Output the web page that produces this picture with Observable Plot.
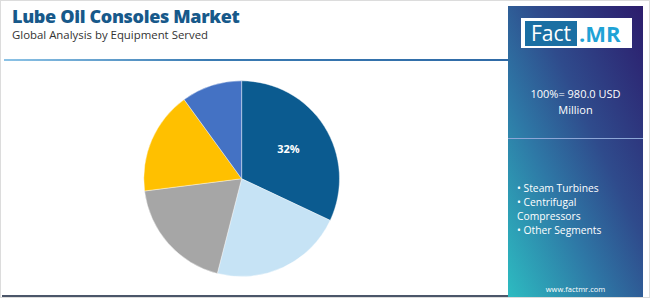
<!DOCTYPE html>
<html>
<head>
<meta charset="utf-8">
<script src="https://cdn.jsdelivr.net/npm/d3@7"></script>
<script src="https://cdn.jsdelivr.net/npm/@observablehq/plot@0.6"></script>
<style>
  html, body { margin: 0; padding: 0; background: #fff; }
  #wrap { position: relative; width: 650px; height: 298px; overflow: hidden; font-family: "Open Sans", sans-serif; box-sizing: border-box; border: 1px solid #dcdcdc; }
  #chart { position: absolute; left: -1px; top: -1px; }
  .title { position: absolute; left: 11px; top: 3px; font-size: 18px; line-height: 24px; font-weight: 800; color: #17598a; letter-spacing: -0.35px; white-space: nowrap; }
  .subtitle { position: absolute; left: 11px; top: 26px; font-size: 11.4px; line-height: 15px; color: #333; white-space: nowrap; }
  .topline { position: absolute; left: 3px; top: 58px; width: 507px; height: 2px; background: linear-gradient(to right, #8cc3e6, #3a7bb3 40%, #2f6aa6); }
  .bottomline { position: absolute; left: 1px; top: 294px; width: 509px; height: 3px; background: #4b5669; }
  .panel { position: absolute; left: 507px; top: 5px; width: 135px; height: 293px; background: linear-gradient(to top right, #2dbcc1 0%, #2e78a6 35%, #2f4b8c 60%, #2c1c6c 100%); color: #fff; }
  .logo { position: absolute; left: 13px; top: 12px; width: 111px; height: 30px; background: #fff; }
  .logo .fact { position: absolute; left: 4px; top: 3px; width: 52px; height: 25px; background: #1a6fa3; color: #fff; font-size: 21px; line-height: 25px; text-align: center; font-family: "Open Sans", sans-serif; }
  .logo .mr { position: absolute; left: 58px; top: 0px; height: 30px; line-height: 31px; color: #1fa3d6; font-size: 22px; font-weight: 700; font-family: "Open Sans", sans-serif; }
  .total { position: absolute; left: 0; top: 80px; width: 135px; text-align: center; font-size: 11px; line-height: 16px; }
  .divider { position: absolute; left: 0; top: 132px; width: 135px; height: 1px; background: #8da6d6; }
  .legend { position: absolute; left: 9px; top: 175px; font-size: 10.3px; line-height: 14px; }
  .site { position: absolute; left: 0; top: 278px; width: 135px; text-align: center; font-size: 7.5px; }
</style>
</head>
<body>
<div id="wrap">
  <div id="chart"></div>
  <div class="title">Lube Oil Consoles Market</div>
  <div class="subtitle">Global Analysis by Equipment Served</div>
  <div class="topline"></div>
  <div class="bottomline"></div>
  <div class="panel">
    <div class="logo"><div class="fact">Fact</div><div class="mr">.MR</div></div>
    <div class="total">100%= 980.0 USD<br>Million</div>
    <div class="divider"></div>
    <div class="legend">• Steam Turbines<br>• Centrifugal<br>Compressors<br>• Other Segments</div>
    <div class="site">www.factmr.com</div>
  </div>
</div>
<script>
// Data
const segments = ["Segment A", "Segment B", "Segment C", "Segment D", "Segment E"];
const shares = [32, 22, 19, 17, 10];
const colors = ["#0b5b90", "#c6e3f5", "#a6a6a6", "#ffc000", "#4472c4"];
const labels = ["32%", "", "", "", ""];

const data = segments.map((s, i) => ({segment: s, value: shares[i], label: labels[i]}));
const arcs = d3.pie().sort(null).value(d => d.value)(data);
const labelRadius = 0.56;
const labelData = arcs.filter(a => a.data.label).map(a => {
  const mid = (a.startAngle + a.endAngle) / 2;
  return {x: labelRadius * Math.sin(mid), y: labelRadius * Math.cos(mid), label: a.data.label};
});

const colorScale = Plot.scale({color: {type: "ordinal", domain: segments, range: colors}});

function pieMark(index, scales, values, dimensions, context) {
  const cx = scales.x(0), cy = scales.y(0);
  const r = scales.x(1) - scales.x(0);
  const arc = d3.arc().innerRadius(0).outerRadius(r);
  const g = d3.create("svg:g").attr("transform", `translate(${cx},${cy})`);
  g.selectAll("path").data(arcs).join("path")
    .attr("d", arc)
    .attr("fill", d => colorScale.apply(d.data.segment))
    .attr("stroke", "#fff")
    .attr("stroke-width", 0.4);
  return g.node();
}

const plot = Plot.plot({
  width: 650,
  height: 298,
  marginLeft: 144,
  marginRight: 310,
  marginTop: 81,
  marginBottom: 21,
  x: {domain: [-1, 1], axis: null},
  y: {domain: [-1, 1], axis: null},
  style: {background: "transparent", overflow: "visible"},
  marks: [
    pieMark,
    Plot.text(labelData, {x: "x", y: "y", text: "label", fill: "#fff", fontSize: 11, fontWeight: "bold", fontFamily: "Open Sans, sans-serif"})
  ]
});
document.getElementById("chart").appendChild(plot);
</script>
</body>
</html>
